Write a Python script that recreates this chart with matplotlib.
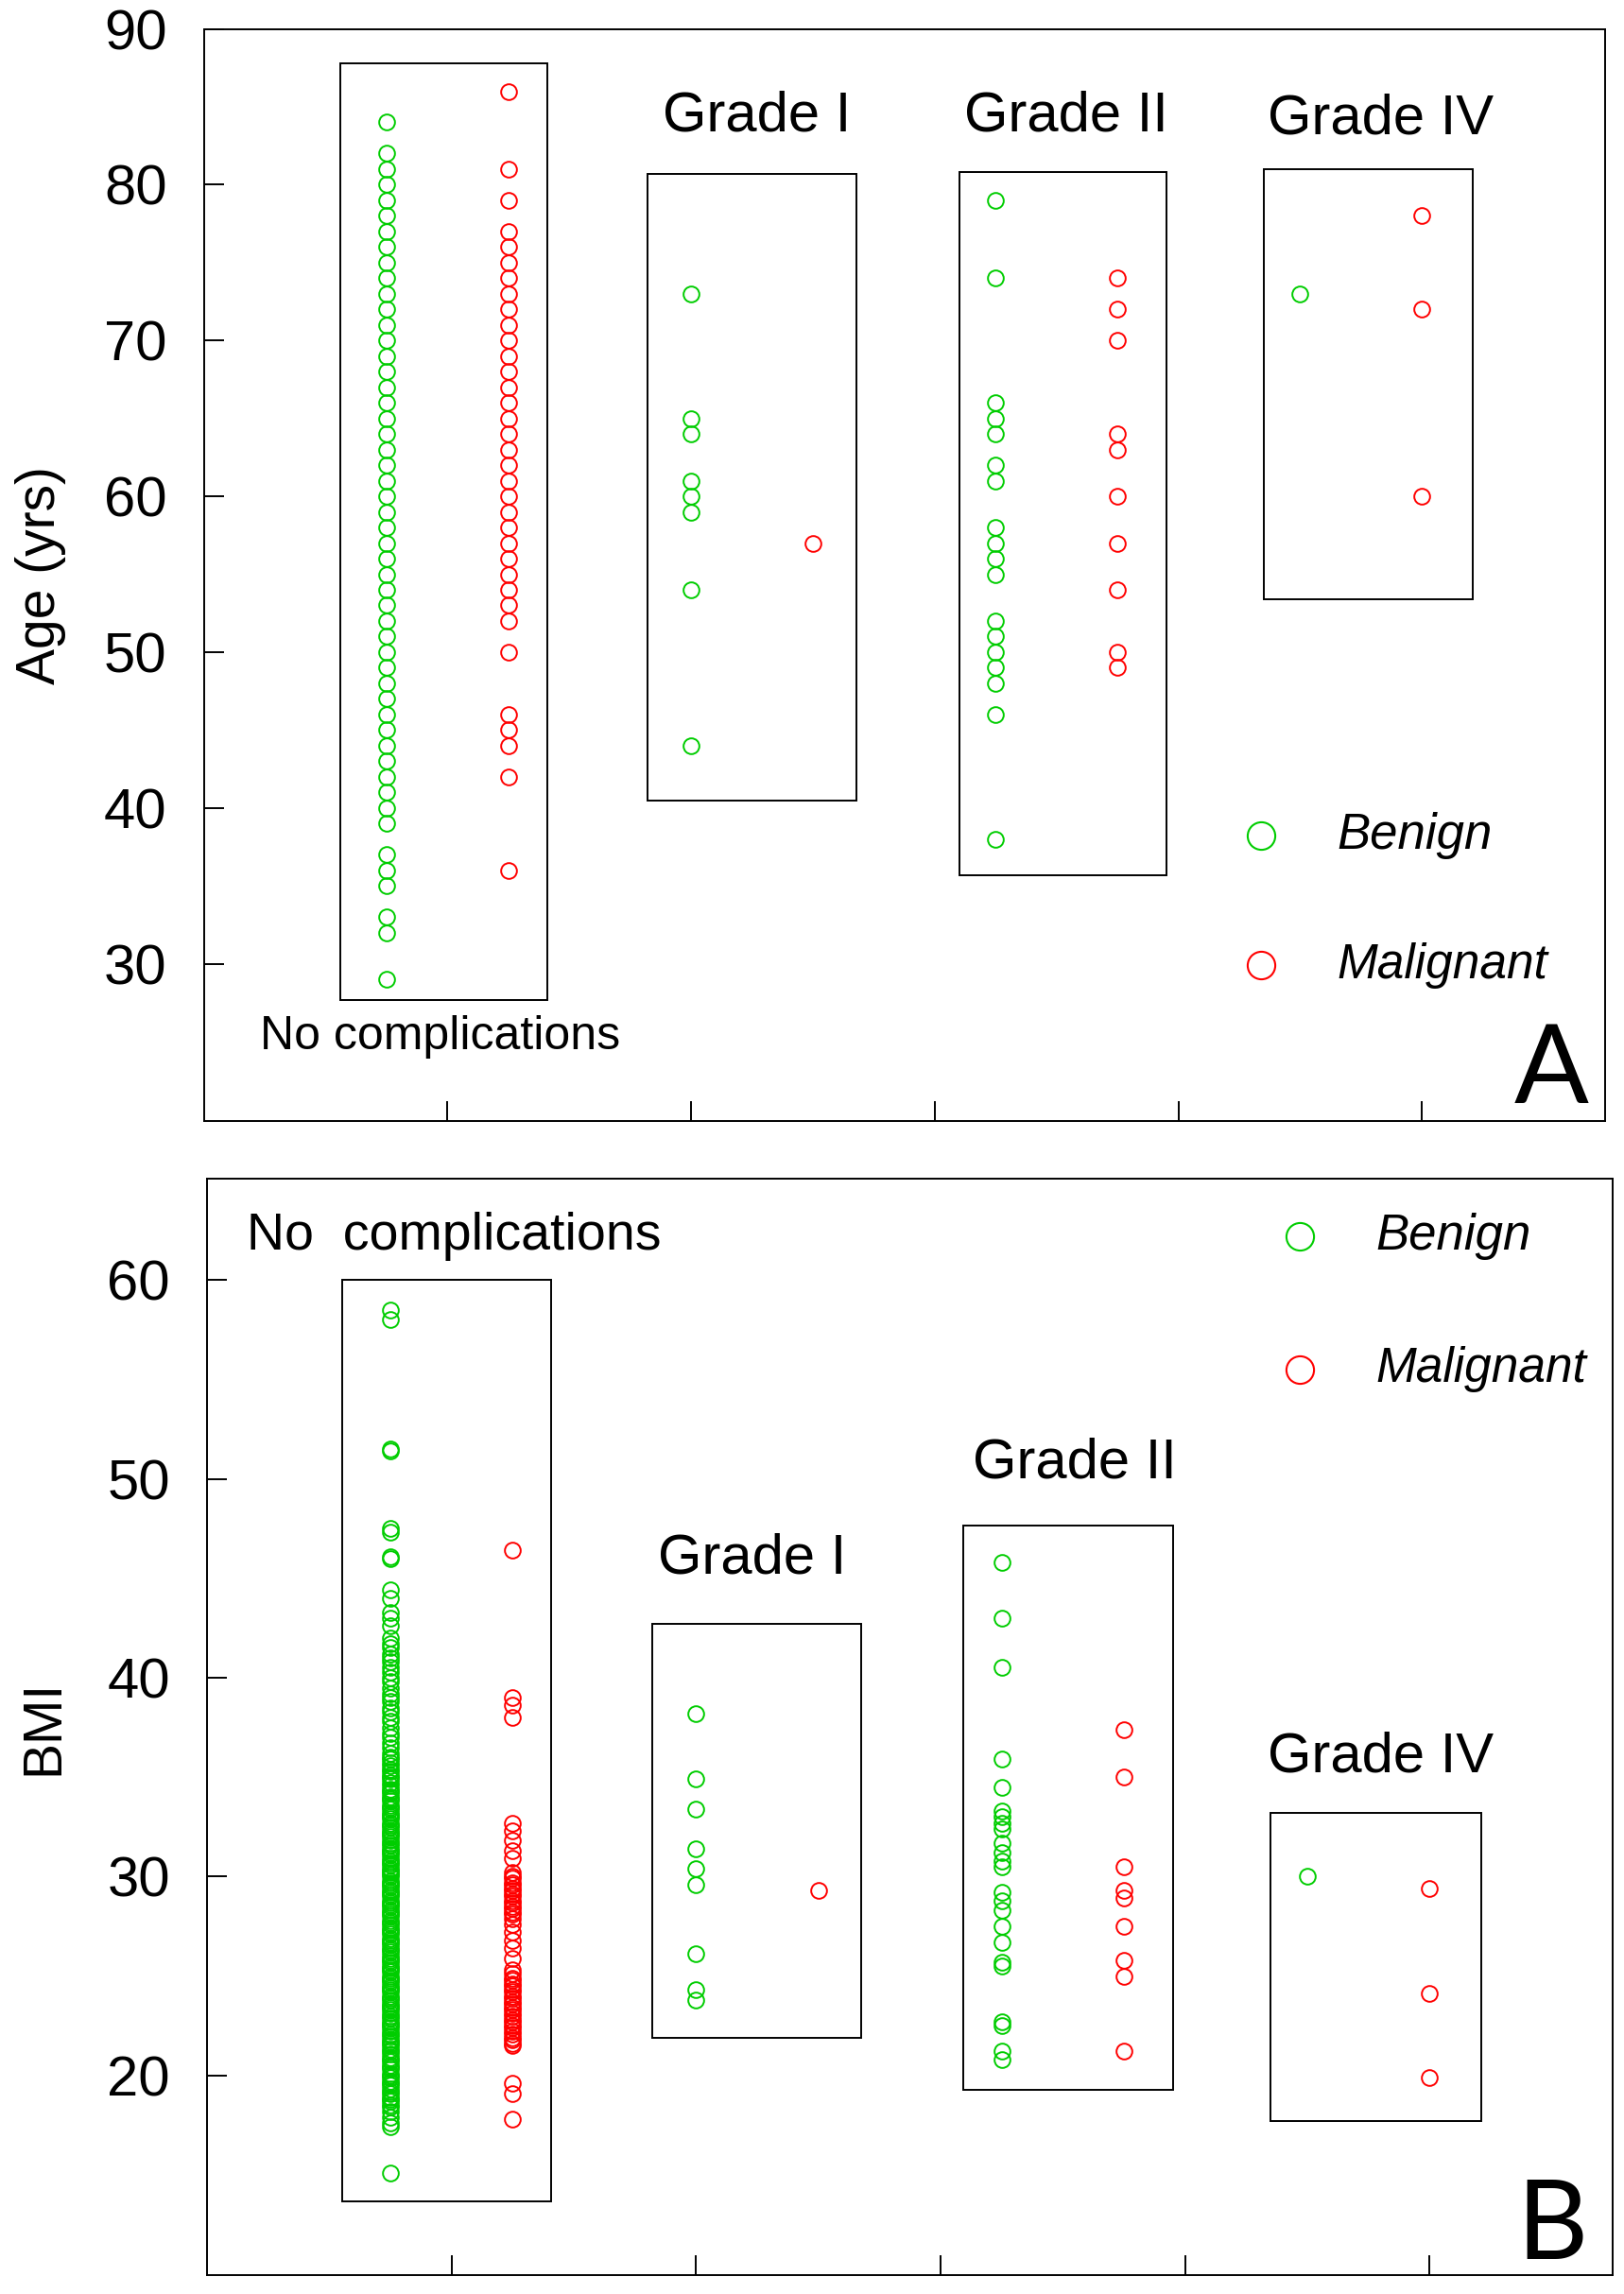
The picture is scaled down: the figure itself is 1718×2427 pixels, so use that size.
import matplotlib
matplotlib.use('Agg')
import matplotlib.pyplot as plt
from matplotlib.patches import Rectangle

plt.rcParams['font.family'] = ['Liberation Sans', 'DejaVu Sans']

GREEN = '#00CD00'
RED = '#FF0000'

groups = ['No complications', 'Grade I', 'Grade II', 'Grade IV']

# ---- panel A: age (yrs)
age_benign = [
    [84, 82, 81, 80, 79, 78, 77, 76, 75, 74, 73, 72, 71, 70, 69, 68, 67, 66,
     65, 64, 63, 62, 61, 60, 59, 58, 57, 56, 55, 54, 53, 52, 51, 50, 49, 48,
     47, 46, 45, 44, 43, 42, 41, 40, 39, 37, 36, 35, 33, 32, 29],
    [73, 65, 64, 61, 60, 59, 54, 44],
    [79, 74, 66, 65, 64, 62, 61, 58, 57, 56, 55, 52, 51, 50, 49, 48, 46, 38],
    [73],
]
age_malignant = [
    [86, 81, 79, 77, 76, 75, 74, 73, 72, 71, 70, 69, 68, 67, 66, 65, 64, 63,
     62, 61, 60, 59, 58, 57, 56, 55, 54, 53, 52, 50, 46, 45, 44, 42, 36],
    [57],
    [74, 72, 70, 64, 63, 60, 57, 54, 50, 49],
    [78, 72, 60],
]

# ---- panel B: BMI
bmi_benign = [
    [58.5, 58.0, 51.5, 51.4, 47.5, 47.3, 46.1, 46.0, 44.4, 44.0, 43.3, 43.0,
     42.6, 42.0, 41.7, 41.5, 41.2, 41.0, 40.8, 40.5, 40.3, 40.0, 39.8, 39.5,
     39.2, 39.0, 38.8, 38.5, 38.3, 38.0, 37.8, 37.5, 37.2, 37.0, 36.7, 36.5,
     36.2, 36.0, 35.9, 35.7, 35.6, 35.4, 35.3, 35.1, 35.0, 34.9, 34.7, 34.6,
     34.4, 34.3, 34.2, 34.0, 33.9, 33.8, 33.6, 33.5, 33.4, 33.2, 33.1, 33.0,
     32.9, 32.7, 32.6, 32.5, 32.3, 32.2, 32.1, 32.0, 31.8, 31.7, 31.6, 31.4,
     31.3, 31.2, 31.1, 30.9, 30.8, 30.7, 30.6, 30.4, 30.3, 30.2, 30.1, 30.0,
     29.8, 29.7, 29.6, 29.5, 29.3, 29.2, 29.1, 29.0, 28.8, 28.7, 28.6, 28.5,
     28.3, 28.2, 28.1, 28.0, 27.8, 27.7, 27.6, 27.4, 27.3, 27.2, 27.1, 26.9,
     26.8, 26.7, 26.6, 26.4, 26.3, 26.2, 26.0, 25.9, 25.8, 25.7, 25.5, 25.4,
     25.3, 25.2, 25.0, 24.9, 24.8, 24.7, 24.5, 24.4, 24.3, 24.2, 24.0, 23.9,
     23.8, 23.6, 23.5, 23.4, 23.3, 23.1, 23.0, 22.9, 22.7, 22.6, 22.5, 22.4,
     22.2, 22.1, 22.0, 21.8, 21.7, 21.6, 21.5, 21.3, 21.2, 21.1, 20.9, 20.8,
     20.7, 20.5, 20.4, 20.3, 20.1, 20.0, 19.9, 19.7, 19.6, 19.5, 19.3, 19.2,
     19.1, 18.9, 18.8, 18.7, 18.5, 18.4, 18.2, 17.9, 17.6, 17.4, 15.1],
    [38.2, 34.9, 33.4, 31.4, 30.4, 29.6, 26.1, 24.3, 23.8],
    [45.8, 43.0, 40.5, 35.9, 34.5, 33.3, 33.0, 32.7, 32.4, 31.7, 31.2, 30.8,
     30.5, 29.2, 28.8, 28.3, 27.5, 26.7, 25.7, 25.5, 22.7, 22.5, 21.2, 20.8],
    [30.0],
]
bmi_malignant = [
    [46.4, 39.0, 38.6, 38.0, 32.7, 32.3, 31.8, 31.3, 30.9, 30.2, 30.0, 29.9,
     29.7, 29.6, 29.4, 29.3, 29.1, 29.0, 28.8, 28.7, 28.5, 28.4, 28.2, 28.1,
     27.9, 27.6, 27.2, 26.8, 26.4, 25.9, 25.3, 25.1, 24.9, 24.8, 24.6, 24.5,
     24.3, 24.2, 24.0, 23.9, 23.7, 23.6, 23.4, 23.3, 23.1, 23.0, 22.8, 22.7,
     22.5, 22.4, 22.2, 22.1, 21.9, 21.8, 21.6, 21.5, 19.6, 19.1, 17.8],
    [29.3],
    [37.4, 35.0, 30.5, 29.3, 28.9, 27.5, 25.8, 25.0, 21.2],
    [29.4, 24.1, 19.9],
]

# x positions of the two columns in each group
x_benign = [0.75, 2.0, 3.25, 4.5]
x_malignant = [1.25, 2.5, 3.75, 5.0]


def draw_panel(ax, benign, malignant, ylim, yticks, ylabel, boxes, labels,
               legend_pos, letter, letter_pos):
    for xb, vals in zip(x_benign, benign):
        ax.plot([xb] * len(vals), vals, 'o', mfc='none', mec=GREEN,
                ms=12, mew=1.4, clip_on=False)
    for xm, vals in zip(x_malignant, malignant):
        ax.plot([xm] * len(vals), vals, 'o', mfc='none', mec=RED,
                ms=12, mew=1.4, clip_on=False)

    for (x0, x1, y0, y1) in boxes:
        ax.add_patch(Rectangle((x0, y0), x1 - x0, y1 - y0, fill=False,
                               ec='black', lw=1.4))
    for (txt, x, y, size) in labels:
        ax.text(x, y, txt, ha='center', va='center', fontsize=size)

    lx, ly1, ly2, tx = legend_pos
    ax.plot([lx], [ly1], 'o', mfc='none', mec=GREEN, ms=21, mew=1.5)
    ax.plot([lx], [ly2], 'o', mfc='none', mec=RED, ms=21, mew=1.5)
    ax.text(tx, ly1, 'Benign', style='italic', fontsize=38, va='center')
    ax.text(tx, ly2, 'Malignant', style='italic', fontsize=37, va='center')

    ax.text(letter_pos[0], letter_pos[1], letter, ha='center', va='center',
            fontsize=84, family=['Lato', 'DejaVu Sans'])

    ax.set_xlim(0, 5.75)
    ax.set_ylim(*ylim)
    ax.set_xticks([1, 2, 3, 4, 5])
    ax.set_xticklabels([])
    ax.set_yticks(yticks)
    ax.tick_params(direction='in', length=15, width=1.4, labelsize=43, pad=28)
    for s in ax.spines.values():
        s.set_linewidth(1.4)
    ax.set_ylabel(ylabel, fontsize=41)
    ax.yaxis.set_label_coords(-0.098, 0.5)


fig = plt.figure(figsize=(17.18, 24.27), dpi=100)
ax1 = fig.add_axes([0.1255, 0.5113, 0.8626, 0.4761])
ax2 = fig.add_axes([0.1274, 0.0082, 0.8659, 0.4780])

draw_panel(
    ax1, age_benign, age_malignant, (19.9, 90), [30, 40, 50, 60, 70, 80, 90],
    'Age (yrs)',
    [(0.56, 1.41, 27.7, 87.8), (1.82, 2.68, 40.5, 80.7),
     (3.10, 3.95, 35.7, 80.8), (4.35, 5.21, 53.4, 81.0)],
    [('No complications', 0.97, 25.3, 36), ('Grade I', 2.27, 84.4, 43),
     ('Grade II', 3.54, 84.4, 43), ('Grade IV', 4.83, 84.2, 43)],
    (4.34, 38.2, 29.9, 4.65), 'A', (5.53, 23.0))

draw_panel(
    ax2, bmi_benign, bmi_malignant, (9.95, 65.1), [20, 30, 40, 50, 60],
    'BMI',
    [(0.555, 1.407, 13.67, 60.0), (1.82, 2.676, 21.9, 42.73),
     (3.094, 3.95, 19.26, 47.65), (4.35, 5.21, 17.7, 33.2)],
    [('No  complications', 1.01, 62.2, 40), ('Grade I', 2.23, 46.0, 43),
     ('Grade II', 3.55, 50.8, 43), ('Grade IV', 4.8, 36.0, 43)],
    (4.47, 62.2, 55.5, 4.78), 'B', (5.5, 12.3))

fig.savefig('out.png', dpi=100)
